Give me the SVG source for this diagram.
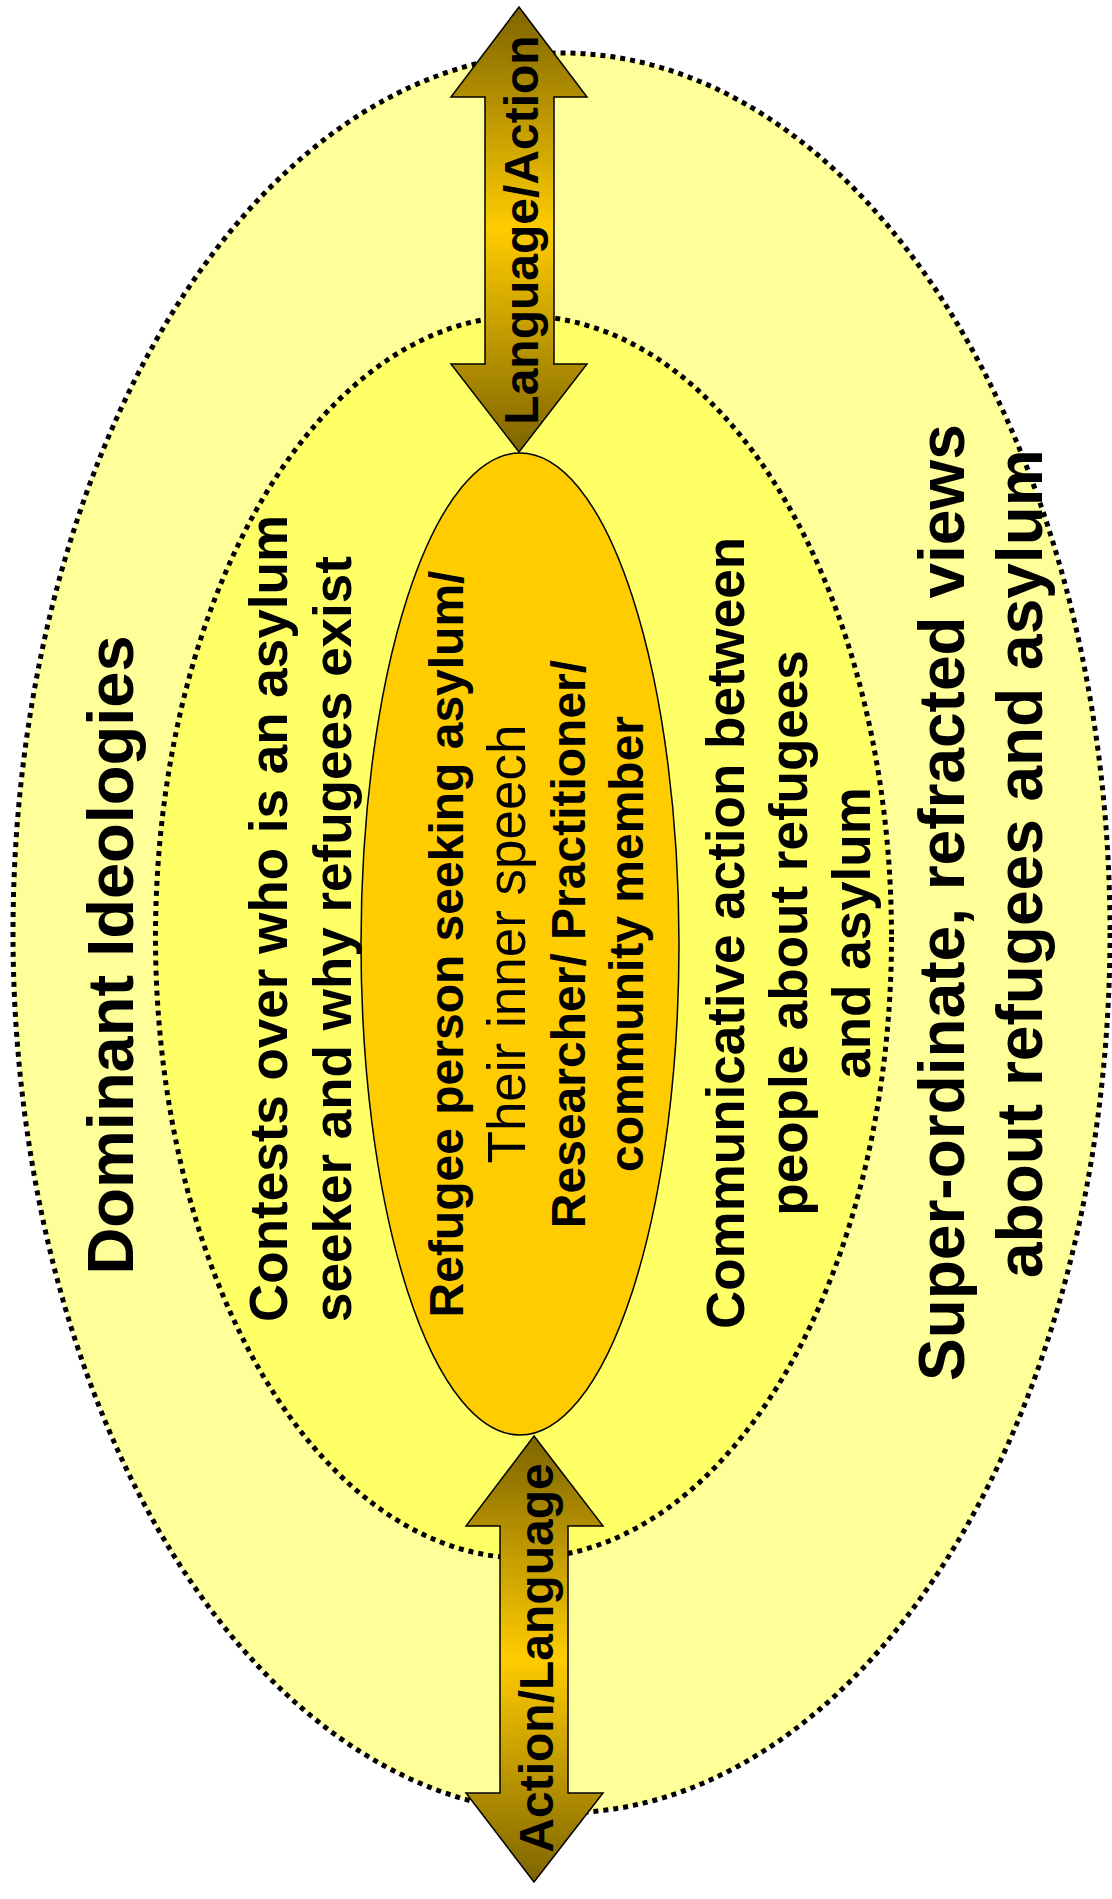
<svg xmlns="http://www.w3.org/2000/svg" width="1112" height="1899" viewBox="0 0 1112 1899">
<style>
.t{font-family:"Liberation Sans",Arial,sans-serif;fill:#000}
.b{font-weight:bold}
.dot{stroke:#000;stroke-width:5;stroke-dasharray:5 5}
.arrow{fill:url(#ag);stroke:#000;stroke-width:1.5;stroke-linejoin:miter}
</style>
<defs>
<linearGradient id="ag" x1="0" y1="0" x2="0" y2="1">
<stop offset="0" stop-color="#7d6400"/>
<stop offset="0.5" stop-color="#ffcc00"/>
<stop offset="1" stop-color="#7d6400"/>
</linearGradient>
</defs>
<g id="outer">
<ellipse cx="561.5" cy="933" rx="548.5" ry="880" fill="#ffff99" class="dot"/>
</g>
<g id="inner">
<ellipse cx="523.5" cy="937" rx="368" ry="621" fill="#ffff66" class="dot"/>
</g>
<g id="core">
<ellipse cx="520" cy="944" rx="159" ry="491" fill="#ffcc00" stroke="#000" stroke-width="1.5"/>
</g>
<g id="connectors">
<polygon class="arrow" points="519,7 587,97 554,97 554,364 587,364 519,452 451,364 485,364 485,97 451,97"/>
<polygon class="arrow" points="534,1436 603,1526 568,1526 568,1793 603,1793 534,1882 466,1793 500,1793 500,1526 466,1526"/>
<text class="t b" font-size="48" text-anchor="middle" transform="translate(538,230) rotate(-90)">Language/Action</text>
<text class="t b" font-size="48" text-anchor="middle" transform="translate(553,1658) rotate(-90)">Action/Language</text>
</g>
<g id="outer-labels">
<text class="t b" font-size="65" text-anchor="middle" transform="translate(133,955) rotate(-90)">Dominant Ideologies</text>
<text class="t b" font-size="64" text-anchor="start" transform="translate(964,1381) rotate(-90)">Super-ordinate, refracted views</text>
<text class="t b" font-size="64" text-anchor="start" transform="translate(1042,1278) rotate(-90)">about refugees and asylum</text>
</g>
<g id="inner-labels">
<text class="t b" font-size="53" text-anchor="start" transform="translate(287,1322) rotate(-90)">Contests over who is an asylum</text>
<text class="t b" font-size="53" text-anchor="start" transform="translate(351,1322) rotate(-90)">seeker and why refugees exist</text>
<text class="t b" font-size="53" text-anchor="middle" transform="translate(744,933) rotate(-90)">Communicative action between</text>
<text class="t b" font-size="53" text-anchor="middle" transform="translate(807,933) rotate(-90)">people about refugees</text>
<text class="t b" font-size="53" text-anchor="middle" transform="translate(870,933) rotate(-90)">and asylum</text>
</g>
<g id="core-labels">
<text class="t b" font-size="48" text-anchor="middle" transform="translate(463,944) rotate(-90)">Refugee person seeking asylum/</text>
<text class="t" font-size="53" text-anchor="middle" transform="translate(525,944) rotate(-90)">Their inner speech</text>
<text class="t b" font-size="48" text-anchor="middle" transform="translate(585,944) rotate(-90)">Researcher/ Practitioner/</text>
<text class="t b" font-size="48" text-anchor="middle" transform="translate(643,944) rotate(-90)">community member</text>
</g>
</svg>
